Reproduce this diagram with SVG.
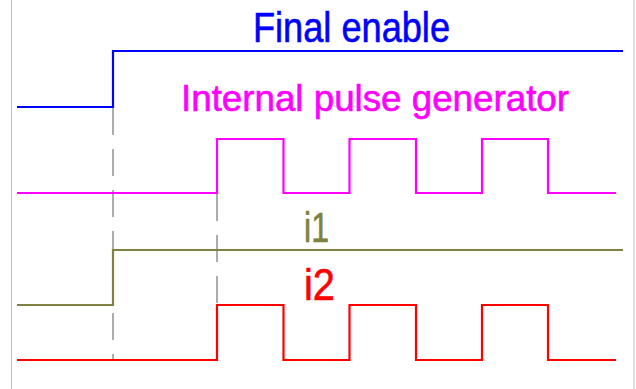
<svg xmlns="http://www.w3.org/2000/svg" width="636" height="389" viewBox="0 0 636 389">
<style>
.sig{fill:none;stroke-width:2.2;stroke-linejoin:miter}
.dash{fill:none;stroke:#808080;stroke-width:1.3;stroke-dasharray:27 14}
.lbl{font-family:"Liberation Sans",Arial,sans-serif;stroke-width:0.6}
</style>
<rect width="636" height="389" fill="#ffffff"/>
<g id="frame">
<line x1="11.5" y1="0" x2="11.5" y2="389" stroke="#c0c0c0" stroke-width="1"/>
<line x1="634" y1="0" x2="634" y2="389" stroke="#c0c0c0" stroke-width="1"/>
</g>
<g id="guides">
<line class="dash" x1="113" y1="108" x2="113" y2="360"/>
<line class="dash" x1="217" y1="194" x2="217" y2="360"/>
</g>
<g id="final-enable">
<polyline class="sig" stroke="#0000ff" points="17,107 113,107 113,51 623,51"/>
<text class="lbl" x="253" y="42" font-size="42" fill="#0000ff" stroke="#0000ff" textLength="197" lengthAdjust="spacingAndGlyphs">Final enable</text>
</g>
<g id="pulse-generator">
<polyline class="sig" stroke="#ff00ff" points="17,193 217,193 217,139 283.5,139 283.5,193 349.5,193 349.5,139 416,139 416,193 482,193 482,139 548,139 548,193 616,193"/>
<text class="lbl" x="181" y="111" font-size="37" fill="#ff00ff" stroke="#ff00ff" textLength="388" lengthAdjust="spacingAndGlyphs">Internal pulse generator</text>
</g>
<g id="i1">
<polyline class="sig" stroke="#808040" points="17,305 113,305 113,250 623,250"/>
<text class="lbl" x="304" y="242" font-size="42" fill="#808040" stroke="#808040" textLength="25" lengthAdjust="spacingAndGlyphs">i1</text>
</g>
<g id="i2">
<polyline class="sig" stroke="#ff0000" points="17,360 217,360 217,305 283.5,305 283.5,360 349.5,360 349.5,305 416,305 416,360 482,360 482,305 548,305 548,360 616,360"/>
<text class="lbl" x="304" y="300" font-size="44" fill="#ff0000" stroke="#ff0000" textLength="31" lengthAdjust="spacingAndGlyphs">i2</text>
</g>
</svg>
